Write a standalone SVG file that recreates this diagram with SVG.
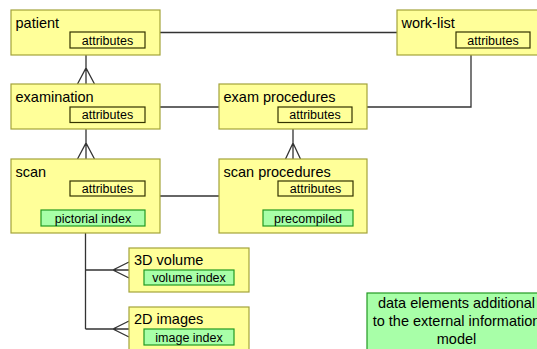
<svg xmlns="http://www.w3.org/2000/svg" width="537" height="349" viewBox="0 0 537 349">
<style>
.ent{fill:#FFFF99;stroke:#A3A33A;stroke-width:1.2}
.attr{fill:#FFFF99;stroke:#333300;stroke-width:1.2}
.idx{fill:#A8FFA8;stroke:#229922;stroke-width:1.2}
.note{fill:#A8FFA8;stroke:#229922;stroke-width:1.2}
.t{font-family:"Liberation Sans",Arial,sans-serif;font-size:14.5px;fill:#000}
.s{font-family:"Liberation Sans",Arial,sans-serif;font-size:12.5px;fill:#000;text-anchor:middle}
.c{fill:none;stroke:#333;stroke-width:1.3}
</style>
<rect width="537" height="349" fill="#fff"/>
<g id="connectors">
<path class="c" d="M160 32.5 H397"/>
<path class="c" d="M471 55 V107 H367"/>
<path class="c" d="M160 107 H219"/>
<path class="c" d="M160 196 H219"/>
<path class="c" d="M86 55 V84 M77.5 84 L86 68 L94.5 84"/>
<path class="c" d="M86 129 V159 M77.5 159 L86 143 L94.5 159"/>
<path class="c" d="M293 129 V159 M285.5 159 L293 143 L300.5 159"/>
<path class="c" d="M85.5 233 V329 M85.5 270 H129 M129 262 L113 270 L129 278 M85.5 329 H129 M129 321 L113 329 L129 337"/>
</g>
<g id="patient">
<rect class="ent" x="11" y="10" width="149" height="45"/>
<text class="t" x="15.5" y="28">patient</text>
<rect class="attr" x="70" y="32" width="75" height="16"/>
<text class="s" x="107.5" y="44.5">attributes</text>
</g>
<g id="work-list">
<rect class="ent" x="397" y="10" width="150" height="45"/>
<text class="t" x="401.5" y="28">work-list</text>
<rect class="attr" x="456" y="32" width="74" height="16"/>
<text class="s" x="493" y="44.5">attributes</text>
</g>
<g id="examination">
<rect class="ent" x="11" y="84" width="149" height="45"/>
<text class="t" x="15.5" y="102">examination</text>
<rect class="attr" x="70" y="107" width="75" height="15.5"/>
<text class="s" x="107.5" y="119">attributes</text>
</g>
<g id="exam-procedures">
<rect class="ent" x="219" y="84" width="148" height="45"/>
<text class="t" x="223.5" y="102">exam procedures</text>
<rect class="attr" x="278" y="107" width="74" height="15.5"/>
<text class="s" x="315" y="119">attributes</text>
</g>
<g id="scan">
<rect class="ent" x="11" y="159" width="149" height="74"/>
<text class="t" x="15.5" y="177">scan</text>
<rect class="attr" x="70" y="181" width="75" height="15"/>
<text class="s" x="107.5" y="193">attributes</text>
<rect class="idx" x="41" y="210" width="104" height="16"/>
<text class="s" x="93" y="222.5">pictorial index</text>
</g>
<g id="scan-procedures">
<rect class="ent" x="219" y="159" width="148" height="74"/>
<text class="t" x="223.5" y="177">scan procedures</text>
<rect class="attr" x="278" y="181" width="75" height="15"/>
<text class="s" x="315.5" y="193">attributes</text>
<rect class="idx" x="263" y="210" width="90" height="16"/>
<text class="s" x="308" y="222.5">precompiled</text>
</g>
<g id="volume-3d">
<rect class="ent" x="129" y="248" width="120" height="44"/>
<text class="t" x="134" y="265">3D volume</text>
<rect class="idx" x="144" y="270" width="90" height="15"/>
<text class="s" x="189" y="282">volume index</text>
</g>
<g id="images-2d">
<rect class="ent" x="129" y="307" width="120" height="50"/>
<text class="t" x="134" y="324">2D images</text>
<rect class="idx" x="144" y="329" width="90" height="16"/>
<text class="s" x="189" y="341.5">image index</text>
</g>
<g id="legend">
<rect class="note" x="367" y="293" width="180" height="70"/>
<text class="t" x="456.5" y="308" text-anchor="middle">data elements additional</text>
<text class="t" x="456.5" y="326" text-anchor="middle">to the external information</text>
<text class="t" x="456.5" y="344" text-anchor="middle">model</text>
</g>
</svg>
